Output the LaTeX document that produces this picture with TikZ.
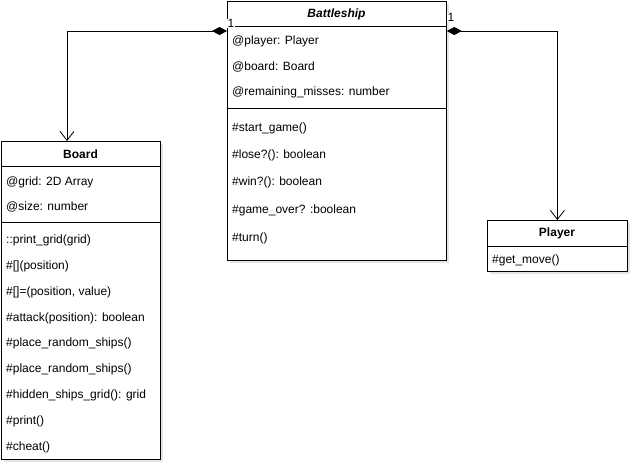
\documentclass[tikz,border=0pt]{standalone}
\usepackage{fontspec}
\setmainfont{Liberation Sans}
\usetikzlibrary{arrows.meta,shadows}

\begin{document}
\begin{tikzpicture}[x=1pt,y=-1pt,
                    font=\fontsize{12}{14}\selectfont,
                    classbox/.style={draw, line width=0.8pt, fill=white, anchor=north west,
                                     drop shadow={opacity=0.25, fill=black!40, shadow xshift=2.5pt, shadow yshift=-2.5pt}},
                    member/.style={anchor=west, inner sep=0pt},
                    classname/.style={font=\fontsize{12}{14}\selectfont\bfseries},
                    mult/.style={fill=white, inner sep=0.5pt},
                    composition/.style={line width=0.8pt,
                                        {Diamond[length=15pt,width=8pt]}-{Straight Barb[length=9pt,width=14pt]}}]
  \useasboundingbox (0,0) rectangle (638,475);
  % class boxes
  \node[classbox, minimum width=219, minimum height=259] (battleship) at (227,1) {};
  \node[classbox, minimum width=159, minimum height=318] (board) at (1,141) {};
  \node[classbox, minimum width=140, minimum height=51] (player) at (487,220) {};
  \coordinate (board-in) at (67,141);
  % names
  \node[classname, font=\fontsize{12}{14}\selectfont\bfseries\itshape] (battleship-name) at (336.5,14) {Battleship};
  \node[classname] (board-name) at (80.5,154.5) {Board};
  \node[classname] (player-name) at (557,233.5) {Player};
  % separators
  \draw[line width=0.8pt] (battleship.west |- 0,26) -- (battleship.east |- 0,26);
  \draw[line width=0.8pt] (battleship.west |- 0,108) -- (battleship.east |- 0,108);
  \draw[line width=0.8pt] (board.west |- 0,166) -- (board.east |- 0,166);
  \draw[line width=0.8pt] (board.west |- 0,222) -- (board.east |- 0,222);
  \draw[line width=0.8pt] (player.west |- 0,246) -- (player.east |- 0,246);
  % members
  \foreach \yy/\txt [count=\i] in {41.5/{@player: Player}, 66.5/{@board: Board},
      92.5/{@remaining\_misses: number}, 128.5/{\#start\_game()}, 155.5/{\#lose?(): boolean},
      182.5/{\#win?(): boolean}, 210.5/{\#game\_over? :boolean}, 238.5/{\#turn()}}
    \node[member] (battleship-\i) at (232,\yy) {\txt};
  \foreach \yy/\txt [count=\i] in {182.5/{@grid: 2D Array}, 206.5/{@size: number},
      240.5/{::print\_grid(grid)}, 266.5/{\#[](position)}, 292.5/{\#[]=(position, value)},
      318.5/{\#attack(position): boolean}, 343.5/{\#place\_random\_ships()},
      369.5/{\#place\_random\_ships()}, 395.5/{\#hidden\_ships\_grid(): grid},
      421.5/{\#print()}, 447.5/{\#cheat()}}
    \node[member] (board-\i) at (6,\yy) {\txt};
  \node[member] (player-1) at (492,260.5) {\#get\_move()};
  % associations
  \draw[composition] (battleship.west |- 0,31) -| (board-in);
  \draw[composition] (battleship.east |- 0,31) -| (player.north);
  \node[mult] (mult-board) at (231,23.5) {1};
  \node[mult] (mult-player) at (451,17.5) {1};
\end{tikzpicture}
\end{document}
